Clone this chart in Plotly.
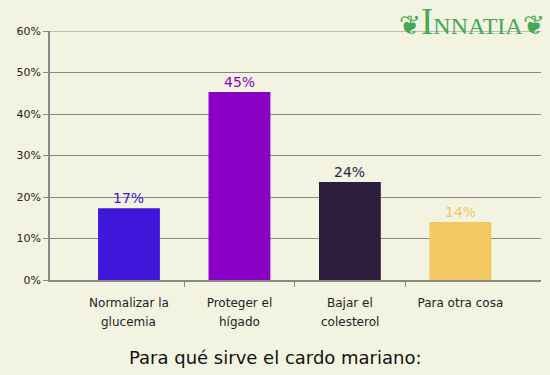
import plotly.graph_objects as go

cat_line1 = ["Normalizar la", "Proteger el", "Bajar el", "Para otra cosa"]
cat_line2 = ["glucemia", "hígado", "colesterol", ""]
values = [17.3, 45.3, 23.6, 14.0]
value_labels = ["17%", "45%", "24%", "14%"]
colors = ["#3F17DB", "#8A00C4", "#2D1D3D", "#F2C862"]
y_ticks = [0, 10, 20, 30, 40, 50, 60]
y_tick_labels = ["0%", "10%", "20%", "30%", "40%", "50%", "60%"]
title = "Para qué sirve el cardo mariano:"

xpos = list(range(len(cat_line1)))
bg = "#F3F3E2"
green = "#45A853"

fig = go.Figure()
fig.add_trace(go.Bar(
    x=xpos, y=values, width=0.56,
    marker=dict(color=colors, line=dict(width=0)),
    hoverinfo="skip",
))

annotations = [
    dict(text=lbl, x=xp, y=v, xref="x", yref="y",
         xanchor="center", yanchor="bottom", yshift=0, showarrow=False,
         font=dict(size=14, color=c, family="DejaVu Sans"))
    for xp, v, lbl, c in zip(xpos, values, value_labels, colors)
]
annotations += [
    dict(text=t, x=xp, xref="x", yref="paper", y=-0.169,
         xanchor="center", yanchor="middle", showarrow=False,
         font=dict(size=12, color="#222222", family="DejaVu Sans"))
    for xp, t in zip(xpos, cat_line2) if t
]
annotations += [
    dict(text=title, xref="paper", yref="paper", x=0.459, y=-0.313,
         xanchor="center", yanchor="middle", showarrow=False,
         font=dict(size=18, color="#111111", family="DejaVu Sans")),
    dict(text="<span style='font-size:37px'>I</span>NNATIA",
         xref="paper", yref="paper", x=0.859, y=1.04,
         xanchor="center", yanchor="middle", showarrow=False,
         font=dict(size=24, color=green, family="Liberation Serif")),
    dict(text="❦", xref="paper", yref="paper", x=0.733, y=1.025,
         xanchor="center", yanchor="middle", showarrow=False,
         font=dict(size=26, color=green, family="DejaVu Sans")),
    dict(text="❦", xref="paper", yref="paper", x=0.985, y=1.025,
         xanchor="center", yanchor="middle", showarrow=False,
         font=dict(size=26, color=green, family="DejaVu Sans")),
]

fig.update_layout(
    width=550, height=375,
    paper_bgcolor=bg, plot_bgcolor=bg,
    margin=dict(l=50, r=9, t=31, b=95, autoexpand=False),
    showlegend=False,
    font=dict(family="DejaVu Sans", color="#222222"),
    xaxis=dict(
        range=[-0.715, 3.73], automargin=False,
        tickmode="array", tickvals=xpos, ticktext=cat_line1,
        ticks="", showgrid=False, zeroline=False, ticklabelstandoff=11,
        showline=True, linecolor="#888888", linewidth=1.5,
        tickfont=dict(size=12, color="#222222"),
        minor=dict(tickmode="array", tickvals=[0.5, 1.5, 2.5], ticks="outside",
                   ticklen=5, tickcolor="#888888", tickwidth=1, showgrid=False),
    ),
    yaxis=dict(
        range=[0, 60], automargin=False,
        tickmode="array", tickvals=y_ticks, ticktext=y_tick_labels,
        ticks="outside", ticklen=5, tickcolor="#888888",
        showgrid=True, gridcolor="#888888", gridwidth=1,
        zeroline=False, showline=True, linecolor="#888888", linewidth=1.5,
        tickfont=dict(size=11, color="#222222"),
    ),
    shapes=[dict(type="line", xref="paper", yref="y", x0=0, x1=1,
                 y0=y_ticks[-1], y1=y_ticks[-1], layer="below",
                 line=dict(color="#888888", width=1))],
    annotations=annotations,
)

fig.write_html(
    "out.html",
    config={"displayModeBar": False},
    post_script="document.body.style.margin='0';document.body.style.padding='0';",
)
